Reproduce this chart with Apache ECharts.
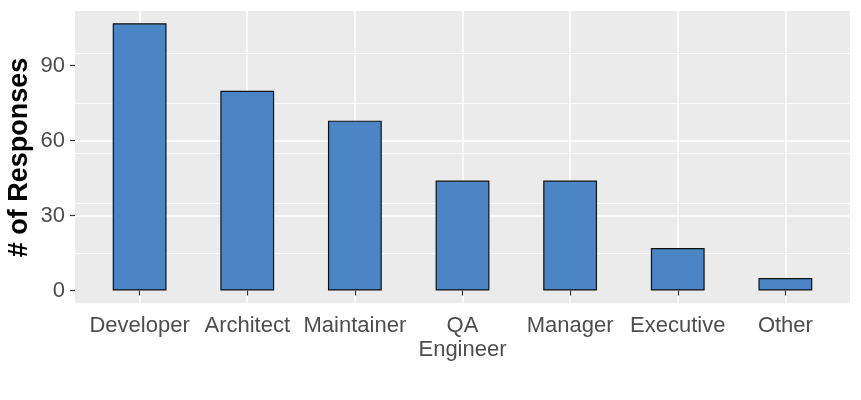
<!DOCTYPE html>
<html>
<head>
<meta charset="utf-8">
<script src="https://cdn.jsdelivr.net/npm/echarts@6/dist/echarts.min.js"></script>
<style>
html,body{margin:0;padding:0;background:#fff;}
#chart{width:861px;height:400px;}
</style>
</head>
<body>
<div id="chart"></div>
<script>
var roles = ["Developer", "Architect", "Maintainer", "QA\nEngineer", "Manager", "Executive", "Other"];
var responses = [107, 80, 68, 44, 44, 17, 5];
var yTicks = [0, 30, 60, 90];

var yMin = -5.4, yMax = 111.9;
var fontName = "Liberation Sans";
var chart = echarts.init(document.getElementById("chart"));

var option = {
	animation: false,
	grid: [
		// panel background with grid lines
		{left: 75, right: 11, top: 11, bottom: 96, show: true, backgroundColor: "#EBEBEB", borderWidth: 0, outerBoundsMode: "none"},
		// bars, inset like ggplot's 0.6 discrete expansion
		{left: 85.8, right: 21.8, top: 11, bottom: 96, outerBoundsMode: "none"}
	],
	xAxis: [
		{
			gridIndex: 0, type: "value", min: 0.4, max: roles.length + 0.6, splitNumber: roles.length,
			axisLine: {show: false}, axisTick: {show: false}, axisLabel: {show: false},
			splitLine: {show: true, showMinLine: false, showMaxLine: false, lineStyle: {color: "#fff", width: 1.5}}
		},
		{
			gridIndex: 1, type: "category", data: roles, position: "bottom",
			axisLine: {show: false},
			axisTick: {show: true, alignWithLabel: true, length: 5, lineStyle: {color: "#333", width: 1.2}},
			axisLabel: {color: "#4D4D4D", fontSize: 22, fontFamily: fontName, margin: 10, lineHeight: 24, interval: 0},
			splitLine: {show: false}
		}
	],
	yAxis: [
		{
			gridIndex: 0, type: "value", min: yMin, max: yMax,
			name: "# of Responses", nameLocation: "middle", nameGap: 42, nameMoveOverlap: false,
			nameTextStyle: {color: "#000", fontSize: 27, fontWeight: "bold", fontFamily: fontName},
			axisLine: {show: false},
			axisTick: {show: true, length: 5, customValues: yTicks, lineStyle: {color: "#333", width: 1.2}},
			axisLabel: {color: "#4D4D4D", fontSize: 22, fontFamily: fontName, margin: 10, customValues: yTicks},
			splitLine: {show: true, showMinLine: false, showMaxLine: false, lineStyle: {color: "#fff", width: 1.5}}
		},
		{
			// shifted copy of the scale, its ticks fall on the minor gridlines (15, 45, 75, 105)
			gridIndex: 0, type: "value", min: yMin - 15, max: yMax - 15, position: "left",
			axisLine: {show: false}, axisTick: {show: false}, axisLabel: {show: false},
			splitLine: {show: true, showMinLine: false, showMaxLine: false, lineStyle: {color: "#fff", width: 0.8}}
		},
		{
			gridIndex: 1, type: "value", min: yMin, max: yMax,
			axisLine: {show: false}, axisTick: {show: false}, axisLabel: {show: false}, splitLine: {show: false}
		}
	],
	series: [
		{
			type: "bar", xAxisIndex: 1, yAxisIndex: 2,
			data: responses, barWidth: "50%",
			itemStyle: {color: "#4A86C5", borderColor: "#111", borderWidth: 1.2}
		}
	]
};
chart.setOption(option);
</script>
</body>
</html>
